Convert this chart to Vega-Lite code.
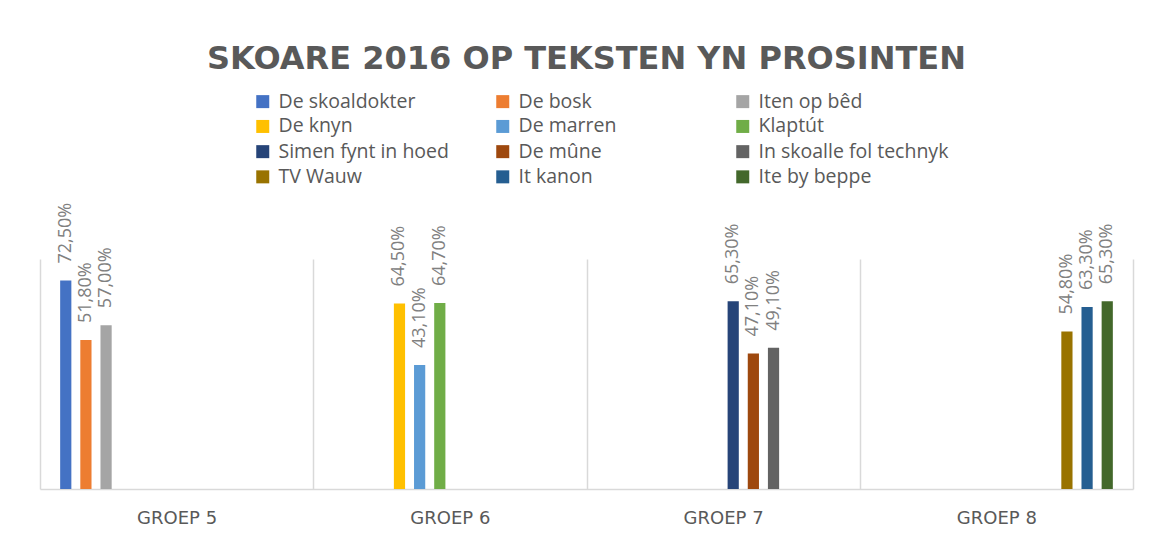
{
  "$schema": "https://vega.github.io/schema/vega-lite/v6.json",
  "width": 1093,
  "height": 230,
  "autosize": {"type": "none"},
  "padding": {"left": 40, "top": 259, "right": 18, "bottom": 50},
  "background": "white",
  "config": {
    "locale": {"number": {"decimal": ",", "thousands": ".", "grouping": [3], "currency": ["€", ""]}},
    "view": {"stroke": null},
    "font": "Open Sans"
  },
  "title": {
    "text": "SKOARE 2016 OP TEKSTEN YN PROSINTEN",
    "font": "DejaVu Sans",
    "fontSize": 32,
    "fontWeight": "bold",
    "color": "#595959",
    "anchor": "middle",
    "frame": "group",
    "offset": 16
  },
  "data": {
    "values": [
      {"groep": "GROEP 5", "tekst": "De skoaldokter", "skoare": 0.725},
      {"groep": "GROEP 5", "tekst": "De bosk", "skoare": 0.518},
      {"groep": "GROEP 5", "tekst": "Iten op bêd", "skoare": 0.570},
      {"groep": "GROEP 6", "tekst": "De knyn", "skoare": 0.645},
      {"groep": "GROEP 6", "tekst": "De marren", "skoare": 0.431},
      {"groep": "GROEP 6", "tekst": "Klaptút", "skoare": 0.647},
      {"groep": "GROEP 7", "tekst": "Simen fynt in hoed", "skoare": 0.653},
      {"groep": "GROEP 7", "tekst": "De mûne", "skoare": 0.471},
      {"groep": "GROEP 7", "tekst": "In skoalle fol technyk", "skoare": 0.491},
      {"groep": "GROEP 8", "tekst": "TV Wauw", "skoare": 0.548},
      {"groep": "GROEP 8", "tekst": "It kanon", "skoare": 0.633},
      {"groep": "GROEP 8", "tekst": "Ite by beppe", "skoare": 0.653}
    ]
  },
  "encoding": {
    "x": {
      "field": "groep",
      "type": "nominal",
      "scale": {"domain": ["GROEP 5", "GROEP 6", "GROEP 7", "GROEP 8"], "paddingInner": 0, "paddingOuter": 0},
      "axis": {
        "title": null,
        "labelAngle": 0,
        "grid": true,
        "tickBand": "extent",
        "gridColor": "#d9d9d9",
        "gridWidth": 1.5,
        "domainColor": "#d9d9d9",
        "domainWidth": 1.5,
        "ticks": false,
        "labelFont": "DejaVu Sans",
        "labelFontSize": 18,
        "labelColor": "#595959",
        "labelPadding": 20
      }
    },
    "xOffset": {
      "field": "tekst",
      "type": "nominal",
      "scale": {
        "domain": ["De skoaldokter", "De bosk", "Iten op bêd", "De knyn", "De marren", "Klaptút", "Simen fynt in hoed", "De mûne", "In skoalle fol technyk", "TV Wauw", "It kanon", "Ite by beppe"],
        "paddingInner": 0.4444,
        "paddingOuter": 1.121
      }
    },
    "y": {
      "field": "skoare",
      "type": "quantitative",
      "scale": {"domain": [0, 0.8], "nice": false},
      "axis": null
    }
  },
  "layer": [
    {
      "mark": {"type": "bar"},
      "encoding": {
        "color": {
          "field": "tekst",
          "type": "nominal",
          "scale": {
            "domain": ["De skoaldokter", "De bosk", "Iten op bêd", "De knyn", "De marren", "Klaptút", "Simen fynt in hoed", "De mûne", "In skoalle fol technyk", "TV Wauw", "It kanon", "Ite by beppe"],
            "range": ["#4472C4", "#ED7D31", "#A5A5A5", "#FFC000", "#5B9BD5", "#70AD47", "#264478", "#9E480E", "#636363", "#997300", "#255E91", "#43682B"]
          },
          "legend": {
            "title": null,
            "orient": "none",
            "direction": "horizontal",
            "legendX": 213,
            "legendY": -167.5,
            "columns": 3,
            "gridAlign": "all",
            "columnPadding": 24,
            "rowPadding": 4.2,
            "padding": 0,
            "symbolType": "square",
            "symbolSize": 169,
            "symbolStrokeWidth": 0,
            "symbolOffset": 0,
            "labelFont": "Open Sans",
            "labelFontSize": 19.5,
            "labelColor": "#595959",
            "labelOffset": 6,
            "labelLimit": 400
          }
        }
      }
    },
    {
      "mark": {"type": "text", "angle": 270, "align": "left", "baseline": "middle", "dx": 17, "font": "Open Sans", "fontSize": 18, "color": "#808080"},
      "encoding": {
        "text": {"field": "skoare", "type": "quantitative", "format": ".2%"}
      }
    }
  ]
}
